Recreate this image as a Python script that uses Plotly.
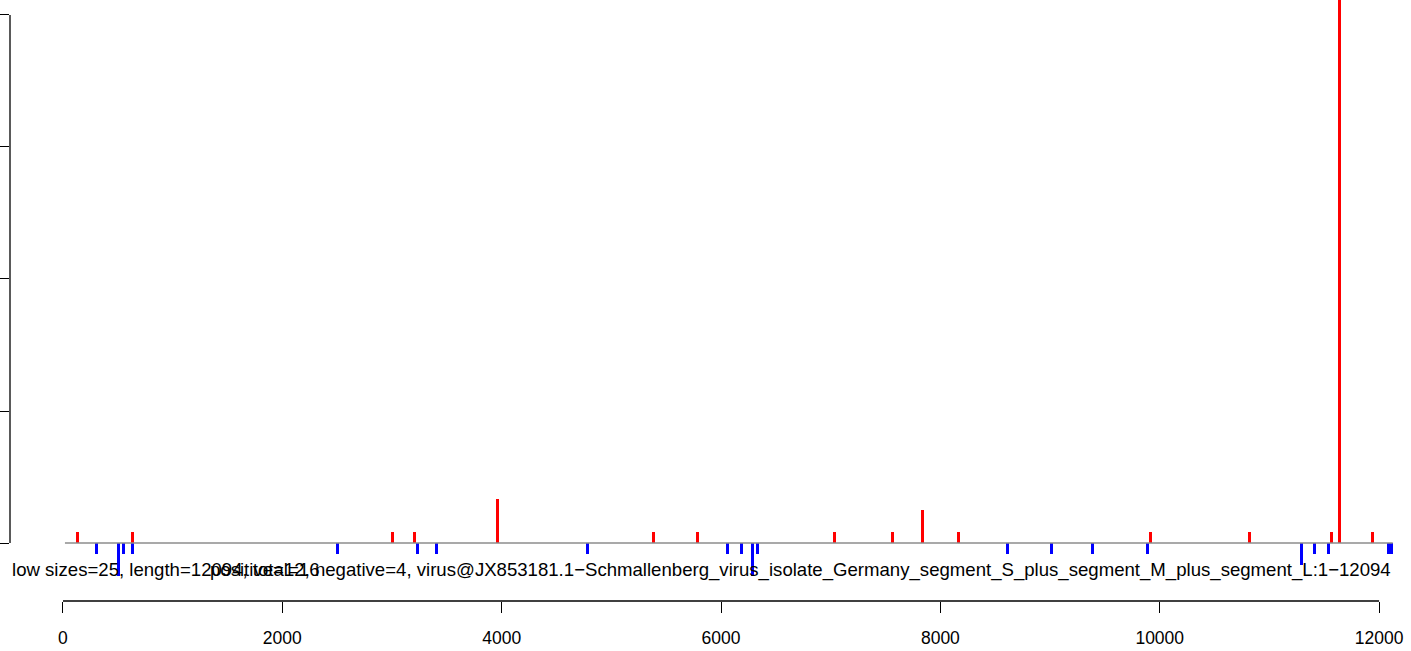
import plotly.graph_objects as go

# ---- data ----
pos_x = [131, 632, 3003, 3203, 3960, 5383, 5784, 7033, 7562, 7835,
         8164, 9914, 10817, 11568, 11641, 11939]
pos_y = [1, 1, 1, 1, 4, 1, 1, 1, 1, 3,
         1, 1, 1, 1, 60, 1]

neg_x = [304, 504, 553, 632, 2501, 3231, 3404, 4781, 6057, 6185, 6285, 6331,
         8610, 9012, 9386, 9887, 11291, 11413, 11537, 12085, 12110]
neg_y = [-1, -3, -1, -1, -1, -1, -1, -1, -1, -1, -3, -1,
         -1, -1, -1, -1, -2, -1, -1, -1, -1]

baseline_x = [18, 12125]
baseline_y = [0, 0]

x_ticks = [0, 2000, 4000, 6000, 8000, 10000, 12000]
y_ticks = [0, 12, 24, 36, 48]

label_left = "low sizes=25, length=12094, total=16"
label_main = ("positive=12, negative=4, virus@JX853181.1\u2212Schmallenberg_virus_isolate_"
              "Germany_segment_S_plus_segment_M_plus_segment_L:1\u221212094")

FONT = "Liberation Sans, Arial, Helvetica, sans-serif"
BAR_W = 27

fig = go.Figure()
fig.add_trace(go.Scatter(x=baseline_x, y=baseline_y, mode="lines",
                         line=dict(color="#8c8c8c", width=1.5), hoverinfo="skip"))
fig.add_trace(go.Bar(x=pos_x, y=pos_y, width=BAR_W, marker=dict(color="#ff0000", line=dict(width=0))))
fig.add_trace(go.Bar(x=neg_x, y=neg_y, width=BAR_W, marker=dict(color="#0000ff", line=dict(width=0))))

fig.update_layout(
    width=1411, height=651,
    margin=dict(l=10, r=0, t=0, b=50),
    paper_bgcolor="white", plot_bgcolor="white",
    showlegend=False, barmode="overlay", bargap=0,
    font=dict(family=FONT, size=17, color="black"),
    xaxis=dict(range=[-483, 12291], tickvals=x_ticks, ticktext=[str(v) for v in x_ticks],
               ticks="outside", ticklen=11, tickwidth=1.3, tickcolor="black",
               showgrid=False, zeroline=False, showline=False,
               ticklabelstandoff=10, tickfont=dict(size=17.5, family=FONT)),
    yaxis=dict(range=[-5.27, 49.36], tickvals=y_ticks, ticks="outside", ticklen=10,
               tickwidth=1.3, tickcolor="black", showticklabels=False,
               showgrid=False, zeroline=False, showline=False),
    shapes=[
        dict(type="line", xref="x", yref="paper", x0=0, x1=12000, y0=0, y1=0,
             line=dict(color="black", width=1.3)),
        dict(type="line", xref="paper", yref="y", x0=0, x1=0, y0=0, y1=48,
             line=dict(color="black", width=1.3)),
    ],
    annotations=[
        dict(text=label_left, xref="paper", yref="y", x=0, y=-2.45,
             xanchor="left", yanchor="middle", showarrow=False,
             font=dict(size=18.6, family=FONT)),
        dict(text=label_main, xref="x", yref="y", x=12126, y=-2.45,
             xanchor="right", yanchor="middle", showarrow=False,
             font=dict(size=18.6, family=FONT)),
    ],
)

fig.write_html("out.html", config={"displayModeBar": False},
               post_script="document.body.style.margin='0px';document.body.style.overflow='hidden';")
